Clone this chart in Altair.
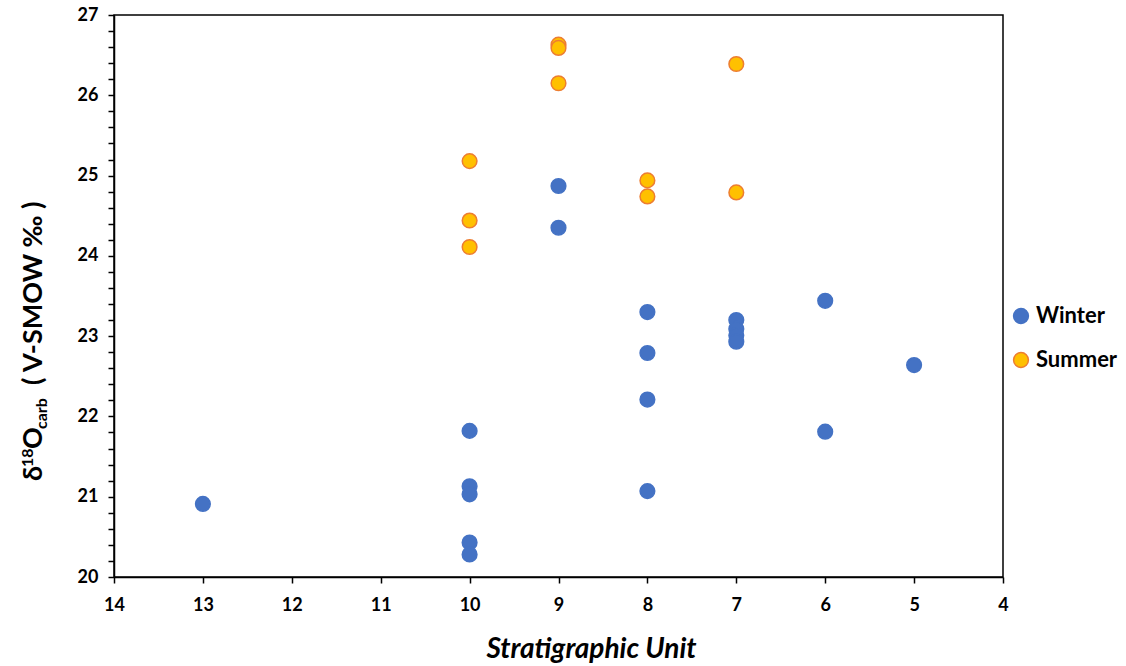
import altair as alt
import pandas as pd

# ---- data ----
winter_unit = [13, 10, 10, 10, 10, 10, 9, 9, 8, 8, 8, 8, 7, 7, 7, 7, 6, 6, 5]
winter_d18o = [20.91, 21.82, 21.13, 21.03, 20.43, 20.28, 24.87, 24.35,
               23.30, 22.79, 22.21, 21.07, 23.20, 23.09, 23.01, 22.93,
               23.44, 21.81, 22.64]
summer_unit = [10, 10, 10, 9, 9, 9, 8, 8, 7, 7]
summer_d18o = [25.18, 24.44, 24.11, 26.63, 26.59, 26.15, 24.94, 24.74, 26.39, 24.79]

seasons = ["Winter", "Summer"]
fill_colors = ["#4472C4", "#FFC000"]
stroke_colors = ["#4472C4", "#ED7D31"]

x_ticks = list(range(4, 15))
y_ticks = [round(20 + 0.2 * i, 1) for i in range(36)]  # major every 1, minor every 0.2

FONT = "Lato"

df = pd.DataFrame({
    "unit": winter_unit + summer_unit,
    "d18o": winter_d18o + summer_d18o,
    "season": ["Winter"] * len(winter_unit) + ["Summer"] * len(summer_unit),
})

is_major = "abs(datum.value - round(datum.value)) < 0.001"

legend = alt.Legend(
    title=None, orient="none", legendX=896, legendY=290,
    labelFont=FONT, labelFontSize=22, labelFontWeight="bold", labelColor="black",
    symbolType="circle", symbolSize=220, symbolStrokeWidth=1.5,
    rowPadding=22, labelOffset=4, padding=0,
)

points = alt.Chart(df).mark_circle(size=215, opacity=1, strokeWidth=1.5).encode(
    x=alt.X("unit:Q",
            scale=alt.Scale(domain=[4, 14], reverse=True, nice=False, zero=False),
            axis=alt.Axis(values=x_ticks, tickCount=100, tickMinStep=0.01,
                          labelExpr="format(datum.value, 'd')",
                          title="Stratigraphic Unit",
                          titleFont=FONT, titleFontSize=28, titleFontWeight="bold",
                          titleFontStyle="italic", titleColor="black",
                          titleX=477, titleY=80, titleAlign="center",
                          titleBaseline="alphabetic", titleAnchor="start",
                          labelFont=FONT, labelFontSize=18, labelFontWeight="bold",
                          labelColor="black", labelPadding=13, labelFlush=False,
                          labelOverlap=False,
                          tickSize=6, tickWidth=1.5, tickColor="black",
                          domainColor="black", domainWidth=1.5, grid=False)),
    y=alt.Y("d18o:Q",
            scale=alt.Scale(domain=[20, 27], nice=False, zero=False),
            axis=alt.Axis(values=y_ticks, tickCount=100, tickMinStep=0.01, title=None,
                          labelExpr=is_major + " ? format(datum.value, 'd') : ''",
                          labelOverlap=False, labelFlush=False,
                          labelFont=FONT, labelFontSize=18, labelFontWeight="bold",
                          labelColor="black", labelPadding=10,
                          tickSize=6, tickWidth=1.5, tickColor="black",
                          domainColor="black", domainWidth=1.5, grid=False)),
    fill=alt.Fill("season:N", scale=alt.Scale(domain=seasons, range=fill_colors), legend=legend),
    stroke=alt.Stroke("season:N", scale=alt.Scale(domain=seasons, range=stroke_colors), legend=legend),
    order=alt.Order("order:Q"),
).transform_calculate(order="datum.season === 'Winter' ? 0 : 1")


def title_piece(text, size, x, y):
    return alt.Chart(pd.DataFrame({"t": [text]})).mark_text(
        angle=270, align="left", baseline="alphabetic",
        font=FONT, fontSize=size, fontWeight="bold", color="black",
    ).encode(text="t:N", x=alt.value(x), y=alt.value(y))


y_title = [
    title_piece("δ", 27, -72, 466),
    title_piece("18", 16, -81, 452),
    title_piece("O", 27, -72, 434),
    title_piece("carb", 16, -67, 414),
    title_piece("( V-SMOW ‰ )", 27, -72, 370),
]

chart = alt.layer(points, *y_title).properties(
    width=889, height=562,
    autosize=alt.AutoSizeParams(type="none"),
    padding={"left": 114, "top": 15, "right": 123, "bottom": 89},
    background="white",
).configure_view(stroke="black", strokeWidth=1.5)

chart.save("out.html", embed_options={"renderer": "svg", "actions": False})
